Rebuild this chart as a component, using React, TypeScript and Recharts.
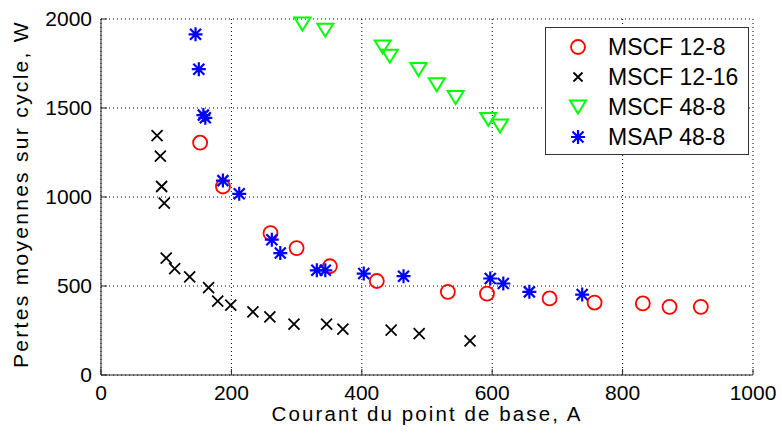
import React from 'react';
import { ScatterChart, Scatter, XAxis, YAxis, CartesianGrid, Legend } from 'recharts';

const FONT = '"Liberation Sans", Arial, Helvetica, sans-serif';

const xTicks = [0, 200, 400, 600, 800, 1000];
const yTicks = [0, 500, 1000, 1500, 2000];
const xTitle = 'Courant du point de base, A';
const yTitle = 'Pertes moyennes sur cycle, W';

const mscf128 = [
  { x: 152, y: 1305 }, { x: 187, y: 1059 }, { x: 260, y: 797 }, { x: 300, y: 713 },
  { x: 351, y: 611 }, { x: 423, y: 528 }, { x: 532, y: 467 }, { x: 592, y: 457 },
  { x: 688, y: 430 }, { x: 757, y: 407 }, { x: 831, y: 402 }, { x: 872, y: 383 },
  { x: 920, y: 383 },
];
const mscf1216 = [
  { x: 86, y: 1345 }, { x: 91, y: 1229 }, { x: 93, y: 1059 }, { x: 97, y: 965 },
  { x: 100, y: 657 }, { x: 113, y: 597 }, { x: 136, y: 551 }, { x: 165, y: 491 },
  { x: 179, y: 415 }, { x: 199, y: 392 }, { x: 233, y: 355 }, { x: 259, y: 327 },
  { x: 296, y: 286 }, { x: 346, y: 286 }, { x: 371, y: 258 }, { x: 445, y: 252 },
  { x: 488, y: 233 }, { x: 566, y: 192 },
];
const mscf488 = [
  { x: 309, y: 1972 }, { x: 344, y: 1937 }, { x: 432, y: 1843 }, { x: 443, y: 1791 },
  { x: 487, y: 1716 }, { x: 515, y: 1630 }, { x: 544, y: 1559 }, { x: 594, y: 1436 },
  { x: 612, y: 1399 },
];
const msap488 = [
  { x: 145, y: 1914 }, { x: 150, y: 1718 }, { x: 157, y: 1460 }, { x: 160, y: 1445 },
  { x: 187, y: 1092 }, { x: 212, y: 1018 }, { x: 262, y: 760 }, { x: 275, y: 685 },
  { x: 331, y: 588 }, { x: 344, y: 588 }, { x: 403, y: 570 }, { x: 464, y: 555 },
  { x: 597, y: 542 }, { x: 617, y: 514 }, { x: 657, y: 467 }, { x: 738, y: 452 },
];

const seriesNames = ['MSCF 12-8', 'MSCF 12-16', 'MSCF 48-8', 'MSAP 48-8'];

type P = { cx?: number; cy?: number };

const CircleMark = ({ cx = 0, cy = 0 }: P) => (
  <circle cx={cx} cy={cy} r={7} fill="none" stroke="#ff0000" strokeWidth={1.8} />
);
const CrossMark = ({ cx = 0, cy = 0, s = 5.5 }: P & { s?: number }) => (
  <path
    d={`M${cx - s},${cy - s}L${cx + s},${cy + s}M${cx - s},${cy + s}L${cx + s},${cy - s}`}
    stroke="#000" strokeWidth={1.8} fill="none"
  />
);
const TriMark = ({ cx = 0, cy = 0 }: P) => (
  <path
    d={`M${cx - 8},${cy - 6.5}L${cx + 8},${cy - 6.5}L${cx},${cy + 6.5}Z`}
    stroke="#00ff00" strokeWidth={2} fill="none" strokeLinejoin="miter"
  />
);
const StarMark = ({ cx = 0, cy = 0 }: P) => (
  <path
    d={`M${cx - 7},${cy}L${cx + 7},${cy}M${cx},${cy - 7}L${cx},${cy + 7}M${cx - 5.5},${cy - 5.5}L${cx + 5.5},${cy + 5.5}M${cx - 5.5},${cy + 5.5}L${cx + 5.5},${cy - 5.5}`}
    stroke="#0000ff" strokeWidth={2.2} fill="none"
  />
);

const markers = [
  (cx: number, cy: number) => <CircleMark cx={cx} cy={cy} />,
  (cx: number, cy: number) => <CrossMark cx={cx} cy={cy} s={4.5} />,
  (cx: number, cy: number) => <TriMark cx={cx} cy={cy} />,
  (cx: number, cy: number) => <StarMark cx={cx} cy={cy} />,
];

const LegendBox = () => (
  <svg width={204} height={128} style={{ display: 'block' }}>
    <rect x={0.5} y={0.5} width={203} height={127} fill="#fff" stroke="#333" strokeWidth={1} />
    {seriesNames.map((n, i) => {
      const cy = 20 + i * 30;
      return (
        <g key={n}>
          {markers[i](33, cy)}
          <text x={63} y={cy} dy="0.36em" fontSize={23} fontFamily={FONT} fill="#000">{n}</text>
        </g>
      );
    })}
  </svg>
);

const tickStyle = { fill: '#000', fontSize: 21, fontFamily: FONT };
const hidden = () => <g />;

export default function App() {
  return (
    <div style={{ position: 'absolute', left: 0, top: 0, width: 782, height: 435, background: '#fff' }}>
      <ScatterChart width={782} height={435} margin={{ top: 19, right: 29, bottom: 0, left: 0 }}>
        <CartesianGrid stroke="#000" strokeDasharray="1 3" strokeWidth={1} />
        <XAxis
          type="number" dataKey="x" domain={[0, 1000]} ticks={xTicks} height={60}
          tick={tickStyle} tickSize={-6} tickMargin={16} stroke="#222"
          tickLine={{ stroke: '#222' }} axisLine={{ stroke: '#222' }}
          label={{ content: () => (
            <text x={427} y={421} textAnchor="middle" fontSize={20.5} letterSpacing={2.1} fontFamily={FONT} fill="#000">{xTitle}</text>
          ) }}
        />
        <XAxis
          xAxisId="top" orientation="top" type="number" domain={[0, 1000]} ticks={xTicks}
          height={0} tick={hidden} tickSize={-6} stroke="#222"
        />
        <YAxis
          type="number" dataKey="y" domain={[0, 2000]} ticks={yTicks} width={101}
          tick={tickStyle} tickSize={-6} tickMargin={15} stroke="#222"
          label={{ content: () => (
            <text x={21} y={194} dy="0.35em" textAnchor="middle" transform="rotate(-90, 21, 194)" fontSize={21} letterSpacing={2.3} fontFamily={FONT} fill="#000">{yTitle}</text>
          ) }}
        />
        <YAxis
          yAxisId="right" orientation="right" type="number" domain={[0, 2000]} ticks={yTicks}
          width={0} tick={hidden} tickSize={-6} stroke="#222"
        />
        <Legend
          layout="vertical" align="center" verticalAlign="middle"
          wrapperStyle={{ position: 'absolute', left: 545, top: 27, width: 204, height: 128, margin: 0 }}
          content={() => <LegendBox />}
        />
        <Scatter name={seriesNames[0]} data={mscf128} isAnimationActive={false}
          shape={(p: any) => <CircleMark cx={p.cx} cy={p.cy} />} />
        <Scatter name={seriesNames[1]} data={mscf1216} isAnimationActive={false}
          shape={(p: any) => <CrossMark cx={p.cx} cy={p.cy} />} />
        <Scatter name={seriesNames[2]} data={mscf488} isAnimationActive={false}
          shape={(p: any) => <TriMark cx={p.cx} cy={p.cy} />} />
        <Scatter name={seriesNames[3]} data={msap488} isAnimationActive={false}
          shape={(p: any) => <StarMark cx={p.cx} cy={p.cy} />} />
      </ScatterChart>
    </div>
  );
}
